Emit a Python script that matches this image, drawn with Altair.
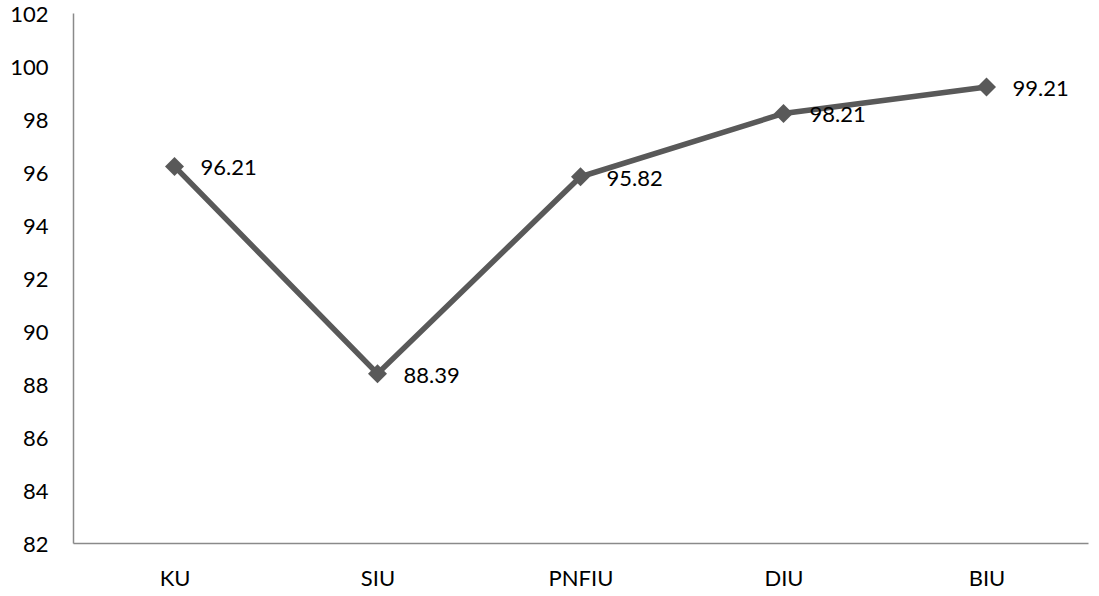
import altair as alt
import pandas as pd

# Scores per university group
categories = ["KU", "SIU", "PNFIU", "DIU", "BIU"]
values = [96.21, 88.39, 95.82, 98.21, 99.21]
y_ticks = list(range(82, 103, 2))

df = pd.DataFrame({"group": categories, "score": values})
df["label"] = [f"{v:.2f}" for v in values]

FONT = "Lato"
FONT_SIZE = 22
LINE = "#595959"

x_enc = alt.X(
    "group:N",
    sort=categories,
    title=None,
    scale=alt.Scale(paddingInner=0, paddingOuter=0.5),
    axis=alt.Axis(
        labelAngle=0,
        ticks=False,
        grid=False,
        domainColor="#8a8a8a",
        domainWidth=1.5,
        labelFont=FONT,
        labelFontSize=FONT_SIZE,
        labelColor="#000000",
        labelPadding=25,
    ),
)
y_enc = alt.Y(
    "score:Q",
    title=None,
    scale=alt.Scale(domain=[82, 102], nice=False, zero=False),
    axis=alt.Axis(
        values=y_ticks,
        ticks=False,
        grid=False,
        domainColor="#8a8a8a",
        domainWidth=1.5,
        labelFont=FONT,
        labelFontSize=FONT_SIZE,
        labelColor="#000000",
        labelPadding=25,
        labelOffset=1,
    ),
)

base = alt.Chart(df).encode(x=x_enc, y=y_enc)

line = base.mark_line(color=LINE, strokeWidth=5.5)
points = base.mark_point(shape="diamond", size=360, filled=True, color=LINE, opacity=1)
labels = base.mark_text(
    align="left", baseline="middle", dx=26, dy=2,
    font=FONT, fontSize=FONT_SIZE, color="#000000",
).encode(text="label:N")

chart = (
    alt.layer(line, points, labels)
    .properties(
        width=1015,
        height=530,
        padding={"left": 73, "top": 13, "right": 11, "bottom": 53},
        autosize=alt.AutoSizeParams(type="none"),
        background="#ffffff",
    )
    .configure_view(stroke=None)
)

chart.save("out.html", embed_options={"renderer": "svg", "actions": False})
